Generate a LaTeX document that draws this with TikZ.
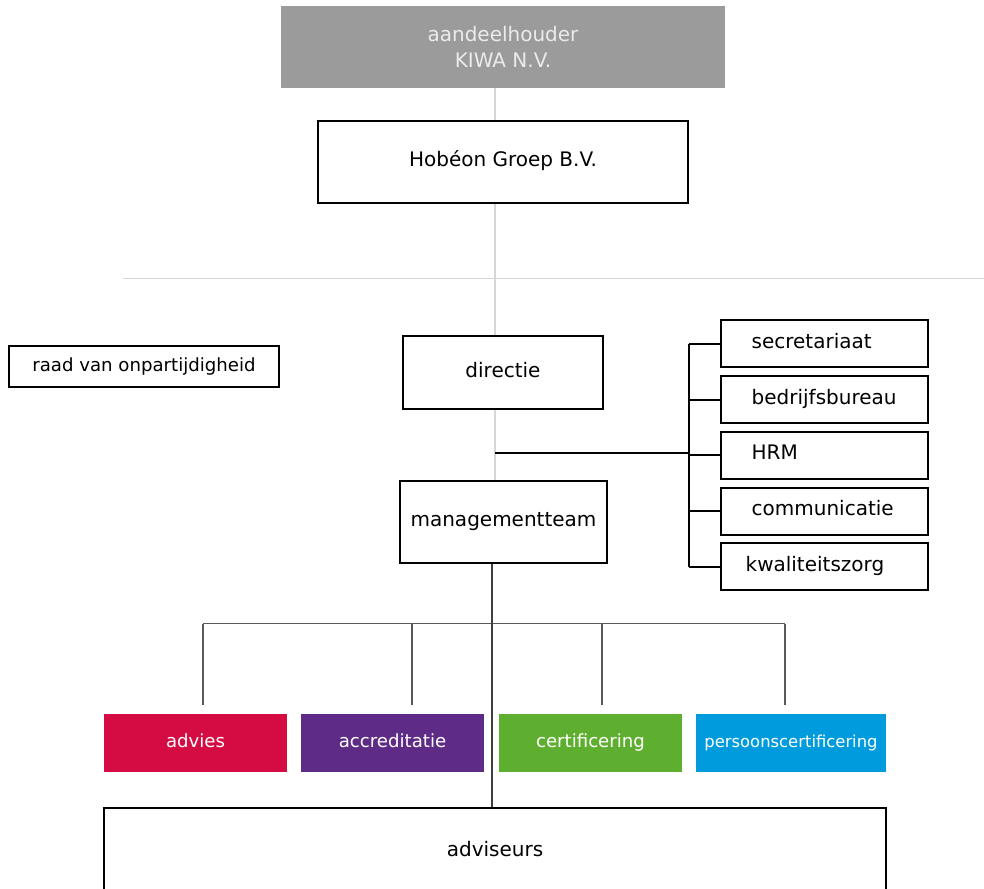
\documentclass[tikz,border=0pt]{standalone}
\usepackage{fontspec}
\setmainfont{DejaVu Sans}
\usepackage{xcolor}
\usetikzlibrary{positioning}
\definecolor{kiwagray}{HTML}{9B9B9B}
\definecolor{adviesred}{HTML}{D50C43}
\definecolor{accrpurple}{HTML}{5E2C86}
\definecolor{certgreen}{HTML}{5EAF2F}
\definecolor{perscyan}{HTML}{009BDC}
\definecolor{faintgray}{HTML}{D6D6D6}
\tikzset{
  sz/.style 2 args={minimum width=#1*0.75pt,minimum height=#2*0.75pt},
  box/.style={draw,line width=1.5pt,rectangle,inner sep=0pt,font=\fontsize{15}{18}\selectfont,
    text height=1.6ex,text depth=.3ex},
  smallbox/.style={draw,line width=1.1pt,rectangle,inner sep=0pt,font=\fontsize{13.6}{16}\selectfont},
  staffbox/.style={box,sz={207}{47},text width=207*0.75pt-46pt,align=left,inner xsep=23pt},
  unit/.style={rectangle,inner sep=0pt,sz={183}{58},text=white,font=\fontsize{13.6}{16}\selectfont,
    text height=1.6ex,text depth=.3ex},
  faint/.style={faintgray,line width=1.1pt},
  conn/.style={black,line width=1.5pt},
  thinconn/.style={black!75,line width=0.8pt},
  bus/.style={black!65,line width=0.8pt}
}
\begin{document}
\begin{tikzpicture}[x=0.75pt,y=-0.75pt]
\useasboundingbox[fill=white] (0,0) rectangle (984,888);

% top of the tree
\node[rectangle,fill=kiwagray,sz={444}{82},text=white!92!black,align=center,
  font=\fontsize{15}{20}\selectfont] (kiwa) at (503,47) {aandeelhouder\\KIWA N.V.};
\node[box,sz={370}{82}] (hobeon) at (503,162) {Hobéon Groep B.V.};
\coordinate (spine) at (495,0);
\coordinate (ruleL) at (123,278);
\coordinate (ruleR) at (984,278);
\draw[faint,line width=0.6pt] (ruleL) -- (ruleR);

% directie and managementteam
\node[smallbox,sz={270}{41}] (raad) at (144,366.5) {raad van onpartijdigheid};
\node[box,sz={200}{73}] (directie) at (503,372.5) {directie};
\node[box,sz={207}{82}] (mt) at (503.5,522) {managementteam};
\draw[faint] (kiwa.south -| spine) -- (hobeon.north -| spine);
\draw[faint] (hobeon.south -| spine) -- (directie.north -| spine);
\draw[faint] (directie.south -| spine) -- (mt.north -| spine);

% staff
\node[staffbox] (secr) at (824.5,343.5) {secretariaat};
\node[staffbox] (bedr) at (824.5,399.5) {bedrijfsbureau};
\node[staffbox] (hrm)  at (824.5,455)   {HRM};
\node[staffbox] (comm) at (824.5,511)   {communicatie};
\node[staffbox,inner xsep=18.5pt,text width=207*0.75pt-37pt] (kwal) at (824.5,566.5) {kwaliteitszorg};
\coordinate (staf) at (495,453);
\coordinate (brk) at (689,453);
\draw[conn] (staf) -- (brk);
\draw[conn] (secr.west -| brk) -- (kwal.west -| brk);
\foreach \n in {secr,bedr,hrm,comm,kwal}
  \draw[conn] (\n.west -| brk) -- (\n.west);

% units
\node[unit,fill=adviesred] (advies) at (195.5,743) {advies};
\node[unit,fill=accrpurple] (accr) at (392.5,743) {accreditatie};
\node[unit,fill=certgreen] (cert) at (590.5,743) {certificering};
\node[unit,fill=perscyan,sz={190}{58},font=\fontsize{12.3}{14}\selectfont] (pers) at (791,743) {persoonscertificering};
\foreach \n/\d in {advies/7.5,accr/19.5,cert/11.5,pers/-6}
  \draw[bus] ([xshift=\d*0.75pt]\n.north) ++(0,-9) -- ++(0,-81) coordinate (b\n);
\draw[bus] (badvies) -- (bpers);

% adviseurs
\node[box,sz={782}{88}] (adv) at (495,852) {adviseurs};
\coordinate (spine2) at (492,0);
\draw[thinconn] (mt.south -| spine2) -- (adv.north -| spine2);
\end{tikzpicture}
\end{document}
